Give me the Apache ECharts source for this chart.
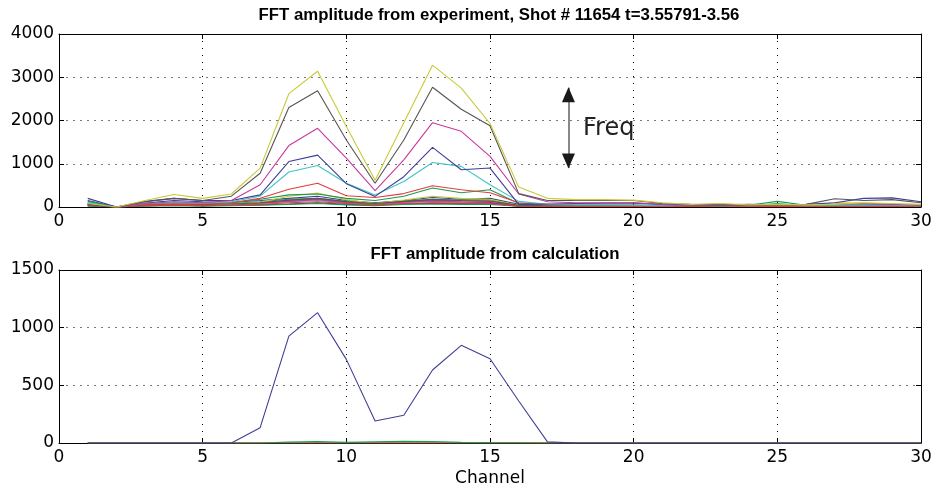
<!DOCTYPE html>
<html>
<head>
<meta charset="utf-8">
<script src="https://cdn.jsdelivr.net/npm/echarts@6/dist/echarts.min.js"></script>
<style>html,body{margin:0;padding:0;background:#fff;}#c{width:936px;height:488px;}</style>
</head>
<body>
<div id="c"></div>
<script>
const channels = [1,2,3,4,5,6,7,8,9,10,11,12,13,14,15,16,17,18,19,20,21,22,23,24,25,26,27,28,29,30];
const xTicks = [0,5,10,15,20,25,30];
const topTitle = 'FFT amplitude from experiment, Shot # 11654 t=3.55791-3.56';
const bottomTitle = 'FFT amplitude from calculation';
const xLabel = 'Channel';
const annotationText = 'Freq';
const arrowChannel = 17.73;
const arrowFrom = 2760;
const arrowTo = 900;

// experiment series (one per line)
const expYellow  = [80,0,150,290,200,300,900,2620,3140,1860,620,1950,3280,2750,1930,460,200,170,170,160,100,60,80,50,60,50,60,100,80,60];
const expGray    = [60,0,120,200,150,250,780,2300,2690,1550,550,1550,2770,2260,1880,310,150,150,150,150,80,60,50,60,50,60,190,150,170,100];
const expMagenta = [50,0,80,120,100,150,515,1420,1820,1130,380,1090,1950,1750,1170,300,120,100,100,100,60,40,50,40,40,50,60,80,60,40];
const expNavy    = [200,0,130,200,150,150,280,1050,1200,540,245,700,1380,860,900,60,70,80,90,90,60,50,60,50,50,60,100,200,210,120];
const expCyan    = [100,0,80,100,90,120,250,810,960,550,280,590,1030,940,515,130,60,50,50,40,30,40,30,30,40,30,40,50,40,30];
const expRed     = [80,0,60,80,70,100,200,410,550,260,220,310,490,400,330,100,50,40,40,40,30,30,40,30,30,30,40,40,30,30];
const expGreen   = [130,0,70,90,80,100,180,280,300,200,150,250,440,330,400,80,50,40,40,40,40,30,30,40,130,40,30,40,30,30];
const expLow1    = [150,0,90,150,120,110,150,200,250,150,100,150,220,180,200,60,40,40,40,40,30,30,30,30,30,30,40,50,60,40];
const expLow2    = [100,0,60,70,60,80,120,180,200,130,90,140,180,160,170,40,30,30,30,30,20,20,20,20,80,20,20,30,20,20];
const expLow3    = [60,0,50,60,50,60,100,150,180,110,70,120,160,140,130,30,20,20,20,20,20,20,20,20,20,20,20,20,20,20];
const expLow4    = [40,0,40,50,40,50,80,120,150,90,60,100,130,110,100,30,20,20,20,20,20,20,20,20,20,20,20,20,20,20];
const expLow5    = [70,0,50,60,50,60,90,130,170,100,70,110,140,120,110,30,20,20,20,20,20,20,20,20,20,20,20,20,20,20];
const expLow6    = [50,0,40,60,50,60,110,250,320,170,80,160,250,200,180,40,30,30,30,30,20,20,20,20,30,20,100,90,70,40];
const expLow7    = [60,0,50,70,60,70,100,160,200,120,80,130,170,150,140,40,30,30,30,30,20,20,20,20,20,20,30,30,30,30];
const expLow8    = [30,0,30,40,30,40,50,70,100,60,40,70,90,80,90,20,10,10,10,10,10,10,10,10,10,10,10,10,10,10];
const expLow9    = [20,0,20,30,20,30,40,60,80,50,30,60,70,60,60,20,10,10,10,10,10,10,10,10,10,10,10,10,10,10];
const expLow10   = [40,0,30,40,30,40,60,100,120,80,50,80,100,90,80,20,10,10,10,10,10,10,10,10,10,10,10,10,10,10];

// calculation series
const calcNavy  = [0,0,0,0,0,0,133,927,1130,725,191,240,633,847,731,364,10,0,0,0,0,0,0,0,0,0,0,0,0,0];
const calcGreen = [0,0,0,0,0,0,0,8,12,5,10,14,12,5,3,2,0,0,0,0,0,0,0,0,0,0,0,0,0,0];
const calcRed   = [0,0,0,0,0,0,0,0,0,0,0,0,0,0,0,0,0,0,0,0,0,0,0,0,0,0,0,0,0,0];
const calcGray  = [0,0,0,0,0,0,0,0,0,0,0,0,0,0,0,0,0,0,0,0,0,0,0,0,0,0,0,0,0,0];

const C = {navy:'#3f3f96', green:'#1f9a52', red:'#e43c3c', cyan:'#3ec4c4', magenta:'#c8399a', yellow:'#c9c93a', gray:'#555555'};

const expSeries = [
  [expLow1,C.navy],[expLow2,C.green],[expLow3,C.red],[expLow4,C.cyan],[expLow5,C.magenta],[expLow6,C.yellow],[expLow7,C.gray],
  [expLow8,C.navy],[expLow9,C.green],[expLow10,C.red],
  [expGreen,C.green],[expRed,C.red],[expCyan,C.cyan],[expNavy,C.navy],[expMagenta,C.magenta],[expGray,C.gray],[expYellow,C.yellow]
];
const calcSeries = [[calcGray,'#6b5a3a'],[calcRed,C.red],[calcGreen,C.green],[calcNavy,C.navy]];

const FONT = 'DejaVu Sans';
const labelStyle = {color:'#000', fontFamily: FONT, fontSize: 17};

function xAx(gi, showLabels, pos, name) {
  return {
    type:'value', gridIndex: gi, min:0, max:30, interval:5, position: pos,
    axisLine:{show:true, onZero:false, lineStyle:{color:'#000', width:1}},
    axisTick:{show:true, inside:true, length:5, lineStyle:{color:'#000'}},
    axisLabel:Object.assign({show:showLabels, margin:6, formatter: v => xTicks.includes(v) ? String(v) : ''}, labelStyle),
    splitLine:{show: pos==='bottom', lineStyle:{type:[1,6], color:'#000', width:1}},
    name: name || '', nameLocation:'middle', nameGap: 27,
    nameTextStyle:{color:'#000', fontFamily: FONT, fontSize: 17}
  };
}
function yAx(gi, max, interval, showLabels, pos) {
  return {
    type:'value', gridIndex: gi, min:0, max:max, interval:interval, position: pos,
    axisLine:{show:true, onZero:false, lineStyle:{color:'#000', width:1}},
    axisTick:{show:true, inside:true, length:5, lineStyle:{color:'#000'}},
    axisLabel:Object.assign({show:showLabels, margin:5, formatter: v => String(v)}, labelStyle),
    splitLine:{show: pos==='left', lineStyle:{type:[2,5], color:'#777', width:1}}
  };
}

const series = [];
expSeries.forEach(([d,c]) => series.push({
  type:'line', xAxisIndex:0, yAxisIndex:0, data: channels.map((ch,i)=>[ch,d[i]]),
  symbol:'none', lineStyle:{color:c, width:1.1}, itemStyle:{color:c}, silent:true, animation:false
}));
calcSeries.forEach(([d,c]) => series.push({
  type:'line', xAxisIndex:2, yAxisIndex:2, data: channels.map((ch,i)=>[ch,d[i]]),
  symbol:'none', lineStyle:{color:c, width:1.1}, itemStyle:{color:c}, silent:true, animation:false
}));
// annotation arrow: shaft + two black heads
series.push({
  type:'line', xAxisIndex:0, yAxisIndex:0, data:[], animation:false,
  markLine:{
    silent:true, symbol:['none','none'],
    lineStyle:{color:'#888', type:'solid', width:2},
    label:{show:false},
    data:[[{coord:[arrowChannel, arrowFrom]},{coord:[arrowChannel, arrowTo]}]]
  },
  markPoint:{
    silent:true, label:{show:false},
    itemStyle:{color:'#1a1a1a'},
    data:[
      {coord:[arrowChannel, arrowFrom], symbol:'triangle', symbolSize:[13,15], symbolOffset:[0,7]},
      {coord:[arrowChannel, arrowTo], symbol:'triangle', symbolSize:[13,15], symbolRotate:180, symbolOffset:[0,-7]}
    ]
  }
});

const option = {
  backgroundColor:'#fff',
  animation:false,
  title:[
    {text: topTitle, left: 494, top: 2, textAlign:'center', textStyle:{fontFamily:'Liberation Sans', fontWeight:'bold', fontSize:16.8, color:'#000'}},
    {text: bottomTitle, left: 490, top: 241, textAlign:'center', textStyle:{fontFamily:'Liberation Sans', fontWeight:'bold', fontSize:16.8, color:'#000'}}
  ],
  grid:[
    {left:59, right:15, top:34, height:173, show:false},
    {left:59, right:15, top:270, height:174, show:false}
  ],
  xAxis:[xAx(0,true,'bottom'), xAx(0,false,'top'), xAx(1,true,'bottom',xLabel), xAx(1,false,'top')],
  yAxis:[yAx(0,4000,1000,true,'left'), yAx(0,4000,1000,false,'right'), yAx(1,1500,500,true,'left'), yAx(1,1500,500,false,'right')],
  graphic:[
    {type:'text', left: 583, top: 117, style:{text: annotationText, fontFamily:'DejaVu Sans', fontSize: 24, fill:'#222'}}
  ],
  series: series
};
const chart = echarts.init(document.getElementById('c'), null, {renderer:'canvas'});
chart.setOption(option);
</script>
</body>
</html>
